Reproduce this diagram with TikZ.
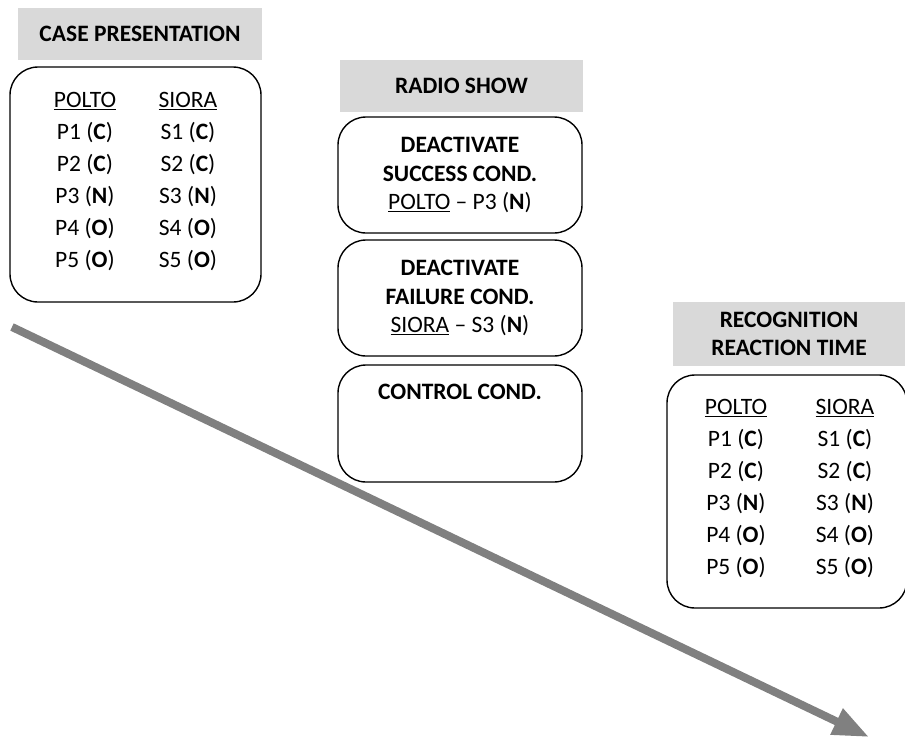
\documentclass[tikz,border=0pt]{standalone}
\usepackage{fontspec}
\setmainfont{Carlito}
\usetikzlibrary{arrows.meta}

\begin{document}
\begin{tikzpicture}[x=1pt, y=-1pt,
  band/.style = {fill=black!15, inner sep=0pt, align=center, font=\fontsize{23.5}{28}\selectfont\bfseries},
  frame/.style = {draw, line width=1.4pt, rounded corners=28pt, inner sep=0pt, align=center, font=\fontsize{23.5}{28.5}\selectfont},
  txt/.style = {inner sep=0pt, font=\fontsize{23.5}{28}\selectfont}]
  \useasboundingbox (0,0) rectangle (905,740);

  % time arrow
  \coordinate (tstart) at (12,327);
  \coordinate (tend) at (869,737);
  \draw[line width=8pt, draw=black!50, -{Triangle[width=27pt,length=36pt]}] (tstart) -- (tend);

  % case presentation
  \node[band, minimum width=244pt, minimum height=52pt] (casehead) at (140,34) {CASE PRESENTATION};
  \node[frame, fill=white, minimum width=251pt, minimum height=235pt] (casebox) at (135.5,184.5) {};
  \node[txt] (cpolto) at (85,101) {\underline{POLTO}};
  \node[txt] (csiora) at (188,101) {\underline{SIORA}};
  \foreach \i/\c [count=\k] in {1/C,2/C,3/N,4/O,5/O} {
    \node[txt] (cp\i) at (85,101+32*\k) {P\i\ (\textbf{\c})};
    \node[txt] (cs\i) at (188,101+32*\k) {S\i\ (\textbf{\c})};
  }

  % radio show
  \node[band, minimum width=243pt, minimum height=52pt] (radiohead) at (461.5,86) {RADIO SHOW};
  \node[frame, fill=white, minimum width=244pt, minimum height=116pt] (success) at (460,175)
    {\textbf{DEACTIVATE}\\ \textbf{SUCCESS COND.}\\ \underline{POLTO} -- P3 (\textbf{N})};
  \node[frame, fill=white, minimum width=244pt, minimum height=116pt] (failure) at (460,298)
    {\textbf{DEACTIVATE}\\ \textbf{FAILURE COND.}\\ \underline{SIORA} -- S3 (\textbf{N})};
  \node[frame, fill=white, minimum width=244pt, minimum height=117pt] (control) at (460,423.5) {};
  \node[txt, font=\fontsize{23.5}{28}\selectfont\bfseries] (ctrltext) at (460,392) {CONTROL COND.};

  % recognition
  \node[band, minimum width=232pt, minimum height=64pt] (recohead) at (789,334) {RECOGNITION\\ REACTION TIME};
  \node[frame, fill=white, minimum width=240pt, minimum height=233pt] (recobox) at (787,491.5) {};
  \node[txt] (rpolto) at (736,408) {\underline{POLTO}};
  \node[txt] (rsiora) at (845,408) {\underline{SIORA}};
  \foreach \i/\c [count=\k] in {1/C,2/C,3/N,4/O,5/O} {
    \node[txt] (rp\i) at (736,408+32*\k) {P\i\ (\textbf{\c})};
    \node[txt] (rs\i) at (845,408+32*\k) {S\i\ (\textbf{\c})};
  }
\end{tikzpicture}
\end{document}
